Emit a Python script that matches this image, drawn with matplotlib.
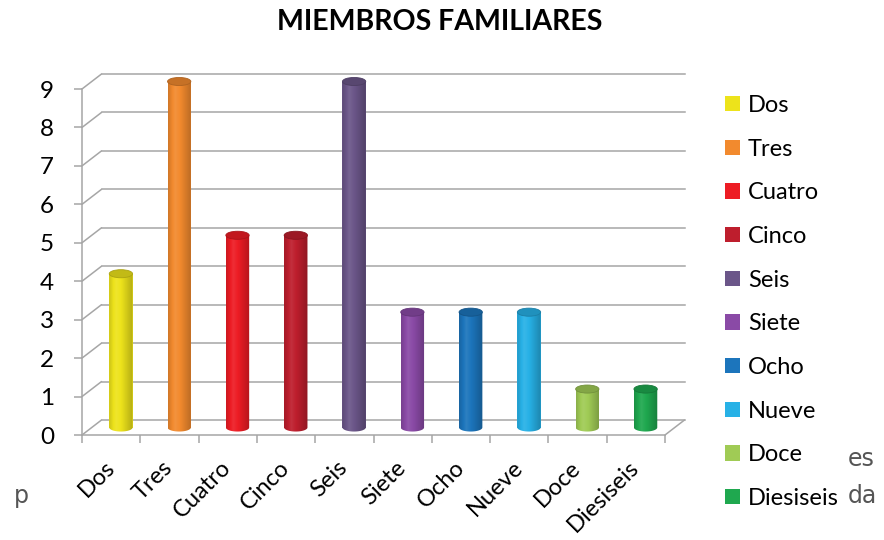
import numpy as np
import matplotlib
matplotlib.use("Agg")
import matplotlib.pyplot as plt
import matplotlib.colors as mcolors
from matplotlib.patches import Ellipse, Patch, PathPatch, ConnectionPatch
from matplotlib.path import Path
from matplotlib.transforms import ScaledTranslation

# ---- data ----
categories = ["Dos", "Tres", "Cuatro", "Cinco", "Seis", "Siete",
              "Ocho", "Nueve", "Doce", "Diesiseis"]
values = [4, 9, 5, 5, 9, 3, 3, 3, 1, 1]
colors = ["#EDE31B", "#F28A2E", "#ED1C24", "#BE1E2D", "#6B5689",
          "#8A4AA6", "#1C75BC", "#27B1E6", "#A0CB55", "#1FA84F"]
y_ticks = list(range(0, 10))
title = "MIEMBROS FAMILIARES"

plt.rcParams['font.family'] = ['Lato', 'DejaVu Sans']

W, H = 884, 540
fig = plt.figure(figsize=(W / 100, H / 100), dpi=100)
ax = fig.add_axes([82 / W, 105 / H, 583 / W, 346 / H])
ax.patch.set_visible(False)

grid_color = '#A6A6A6'
# depth of the pseudo-3D box (pixels -> inches)
DX, DY = 19.5, 15.0
back = ax.transData + ScaledTranslation(DX / 100, DY / 100, fig.dpi_scale_trans)
mid = ax.transData + ScaledTranslation(DX / 200, DY / 200, fig.dpi_scale_trans)

x = np.arange(len(categories))
x_lo, x_hi = -0.5, len(categories) - 0.5

# back wall gridlines and side-wall diagonals
for yv in y_ticks:
    ax.plot([x_lo, x_hi], [yv, yv], color=grid_color, lw=1.1,
            transform=back, clip_on=False, zorder=1)
    ax.add_artist(ConnectionPatch((x_lo, yv), (x_lo, yv), coordsA=ax.transData,
                                  coordsB=back, color=grid_color, lw=1.1, zorder=1))
# right edge of the floor
ax.add_artist(ConnectionPatch((x_hi, 0), (x_hi, 0), coordsA=ax.transData,
                              coordsB=back, color=grid_color, lw=1.1, zorder=1))


def shade(c, f):
    r = np.array(mcolors.to_rgb(c))
    if f <= 1:
        return tuple(r * f)
    t = f - 1
    return tuple(r + (1 - r) * t)


# cylinders
bw = 0.40
eh = 0.21  # ellipse height in data units
bars = ax.bar(x, values, width=bw, color=colors, transform=mid, zorder=3,
              linewidth=0, clip_on=False)
profile_t = np.linspace(0, 1, 64)
profile_f = np.interp(profile_t, [0, 0.3, 0.55, 1.0], [0.86, 1.08, 0.98, 0.76])
for xi, v, c in zip(x, values, colors):
    grad = np.array([[shade(c, f) for f in profile_f]])
    # body outline with rounded bottom
    arc = np.linspace(np.pi, 2 * np.pi, 30)
    verts = [(xi - bw / 2, v), (xi - bw / 2, 0)]
    verts += [(xi + bw / 2 * np.cos(a), eh / 2 * np.sin(a)) for a in arc]
    verts += [(xi + bw / 2, v), (xi - bw / 2, v)]
    body = PathPatch(Path(verts), transform=mid, facecolor='none', edgecolor='none')
    ax.add_patch(body)
    im = ax.imshow(grad, extent=(xi - bw / 2, xi + bw / 2, -eh / 2, v),
                   transform=mid, aspect='auto', interpolation='bilinear',
                   zorder=3.1)
    im.set_clip_box(fig.bbox)
    im.set_clip_path(body)
    ax.add_patch(Ellipse((xi, v), bw, eh, transform=mid, facecolor=shade(c, 0.82),
                         edgecolor=shade(c, 0.72), lw=0.6, zorder=3.2,
                         clip_on=False))

ax.set_xlim(x_lo, x_hi)
ax.set_ylim(0, 9)

# axes
for s in ('top', 'right'):
    ax.spines[s].set_visible(False)
for s in ('left', 'bottom'):
    ax.spines[s].set_color(grid_color)
    ax.spines[s].set_linewidth(1.1)

ax.set_yticks(y_ticks)
ax.set_yticklabels([str(t) for t in y_ticks], fontsize=17.5)
ax.tick_params(axis='y', length=6, width=1.1, color=grid_color, pad=14)

ax.set_xticks(np.arange(len(categories) + 1) - 0.5)
ax.set_xticklabels([])
ax.set_xticks(x, minor=True)
ax.set_xticklabels(categories, minor=True, rotation=45, ha='right', va='center',
                   rotation_mode='anchor', fontsize=17)
ax.tick_params(axis='x', which='major', length=6, width=1.1, color=grid_color)
ax.tick_params(axis='x', which='minor', length=0, pad=21)

fig.text(440 / W, 1 - 22 / H, title, ha='center', va='center',
         fontsize=20.5, fontweight='bold')

handles = [Patch(facecolor=c, edgecolor='none') for c in colors]
fig.legend(handles, categories, loc='upper left',
           bbox_to_anchor=(725 / W, 1 - 95 / H), frameon=False, fontsize=17,
           handlelength=0.62, handleheight=0.62, handletextpad=0.35,
           labelspacing=0.96, borderaxespad=0, borderpad=0)

# fragments of surrounding page text
frag = dict(fontsize=17, color='#555555', va='center', family='DejaVu Sans')
fig.text(848 / W, 1 - 459 / H, "es", **frag)
fig.text(848 / W, 1 - 496 / H, "da", **frag)
fig.text(14 / W, 1 - 496 / H, "p", **frag)

fig.savefig("out.png", dpi=100)
